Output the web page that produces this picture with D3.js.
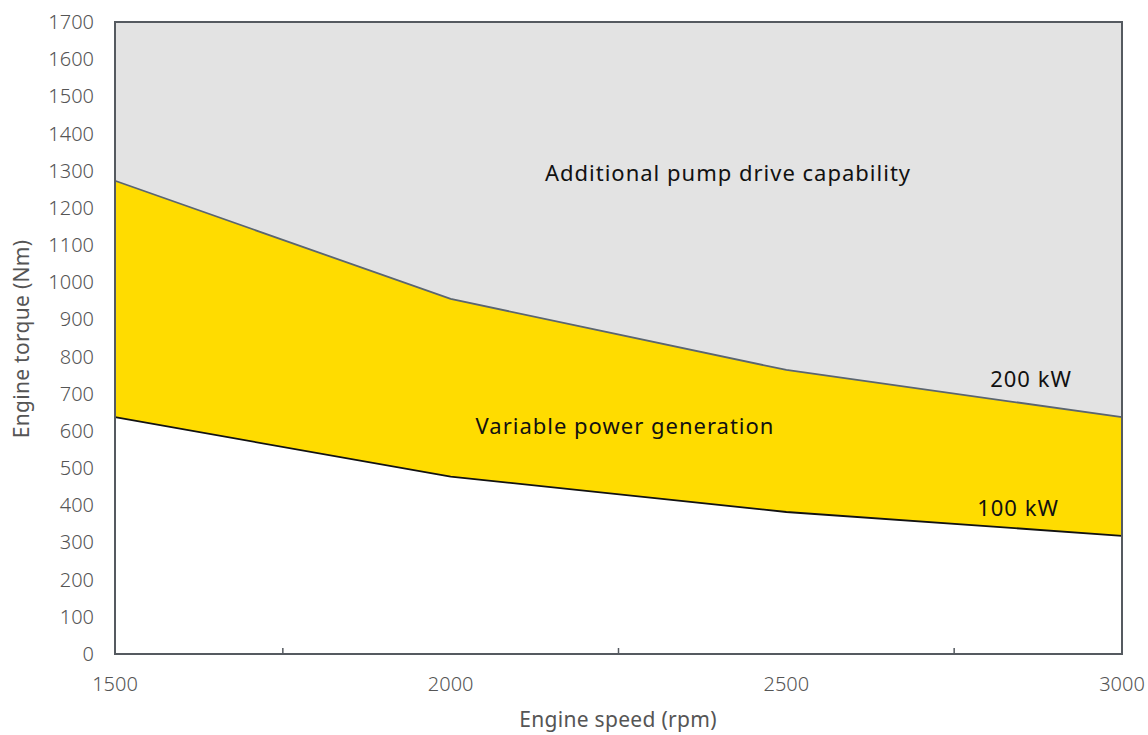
<!DOCTYPE html>
<html>
<head>
<meta charset="utf-8">
<script src="https://cdn.jsdelivr.net/npm/d3@7"></script>
<style>
  body { margin: 0; background: #fff; }
  text { font-family: "Noto Sans", sans-serif; }
  .tick-label { fill: #555; font-size: 20px; font-weight: 300; }
  .axis-title { fill: #555; font-size: 21px; letter-spacing: 0.3px; }
  .area-label { fill: #111; font-size: 22px; letter-spacing: 1px; }
</style>
</head>
<body>
<svg id="chart"></svg>
<script>
const speeds = [1500, 2000, 2500, 3000];
const torque200 = [1273, 955, 764, 637];
const torque100 = [637, 477, 382, 318];
const yTicks = d3.range(0, 1800, 100);
const xTicks = [1500, 2000, 2500, 3000];
const minorXTicks = [1750, 2250, 2750];

const width = 1148, height = 735;
const margin = { top: 22, right: 26, bottom: 81, left: 115 };

const svg = d3.select("#chart").attr("width", width).attr("height", height);

const x = d3.scaleLinear().domain([1500, 3000]).range([margin.left, width - margin.right]);
const y = d3.scaleLinear().domain([0, 1700]).range([height - margin.bottom, margin.top]);

const data = speeds.map((s, i) => ({ s: s, hi: torque200[i], lo: torque100[i] }));

// grey region above 200 kW
svg.append("path")
  .datum(data)
  .attr("fill", "#e3e3e3")
  .attr("d", d3.area().x(d => x(d.s)).y0(y(1700)).y1(d => y(d.hi)));

// yellow band
svg.append("path")
  .datum(data)
  .attr("fill", "#ffdc00")
  .attr("d", d3.area().x(d => x(d.s)).y0(d => y(d.lo)).y1(d => y(d.hi)));

svg.append("path")
  .datum(data)
  .attr("fill", "none")
  .attr("stroke", "#5b6570")
  .attr("stroke-width", 1.8)
  .attr("d", d3.line().x(d => x(d.s)).y(d => y(d.hi)));

svg.append("path")
  .datum(data)
  .attr("fill", "none")
  .attr("stroke", "#111")
  .attr("stroke-width", 1.8)
  .attr("d", d3.line().x(d => x(d.s)).y(d => y(d.lo)));

// frame
svg.append("rect")
  .attr("x", x(1500)).attr("y", y(1700))
  .attr("width", x(3000) - x(1500)).attr("height", y(0) - y(1700))
  .attr("fill", "none")
  .attr("stroke", "#555a60")
  .attr("stroke-width", 2);

// minor ticks on x axis, pointing inwards
svg.selectAll(".minor")
  .data(minorXTicks)
  .enter()
  .append("line")
  .attr("x1", d => x(d)).attr("x2", d => x(d))
  .attr("y1", y(0)).attr("y2", y(0) - 6)
  .attr("stroke", "#555a60")
  .attr("stroke-width", 1.5);

svg.selectAll(".ylab")
  .data(yTicks)
  .enter()
  .append("text")
  .attr("class", "tick-label")
  .attr("x", margin.left - 21)
  .attr("y", d => y(d))
  .attr("dy", "0.35em")
  .attr("text-anchor", "end")
  .text(d => d);

svg.selectAll(".xlab")
  .data(xTicks)
  .enter()
  .append("text")
  .attr("class", "tick-label")
  .attr("x", d => x(d))
  .attr("y", y(0) + 37)
  .attr("text-anchor", "middle")
  .text(d => d);

svg.append("text")
  .attr("class", "axis-title")
  .attr("x", 618)
  .attr("y", 727)
  .attr("text-anchor", "middle")
  .text("Engine speed (rpm)");

svg.append("text")
  .attr("class", "axis-title")
  .attr("transform", "translate(29,339) rotate(-90)")
  .attr("text-anchor", "middle")
  .text("Engine torque (Nm)");

svg.append("text").attr("class", "area-label")
  .attr("x", 728).attr("y", 181).attr("text-anchor", "middle")
  .text("Additional pump drive capability");

svg.append("text").attr("class", "area-label")
  .attr("x", 625).attr("y", 434).attr("text-anchor", "middle")
  .text("Variable power generation");

svg.append("text").attr("class", "area-label")
  .attr("x", 1031).attr("y", 387).attr("text-anchor", "middle")
  .text("200 kW");

svg.append("text").attr("class", "area-label")
  .attr("x", 1018).attr("y", 516).attr("text-anchor", "middle")
  .text("100 kW");
</script>
</body>
</html>
